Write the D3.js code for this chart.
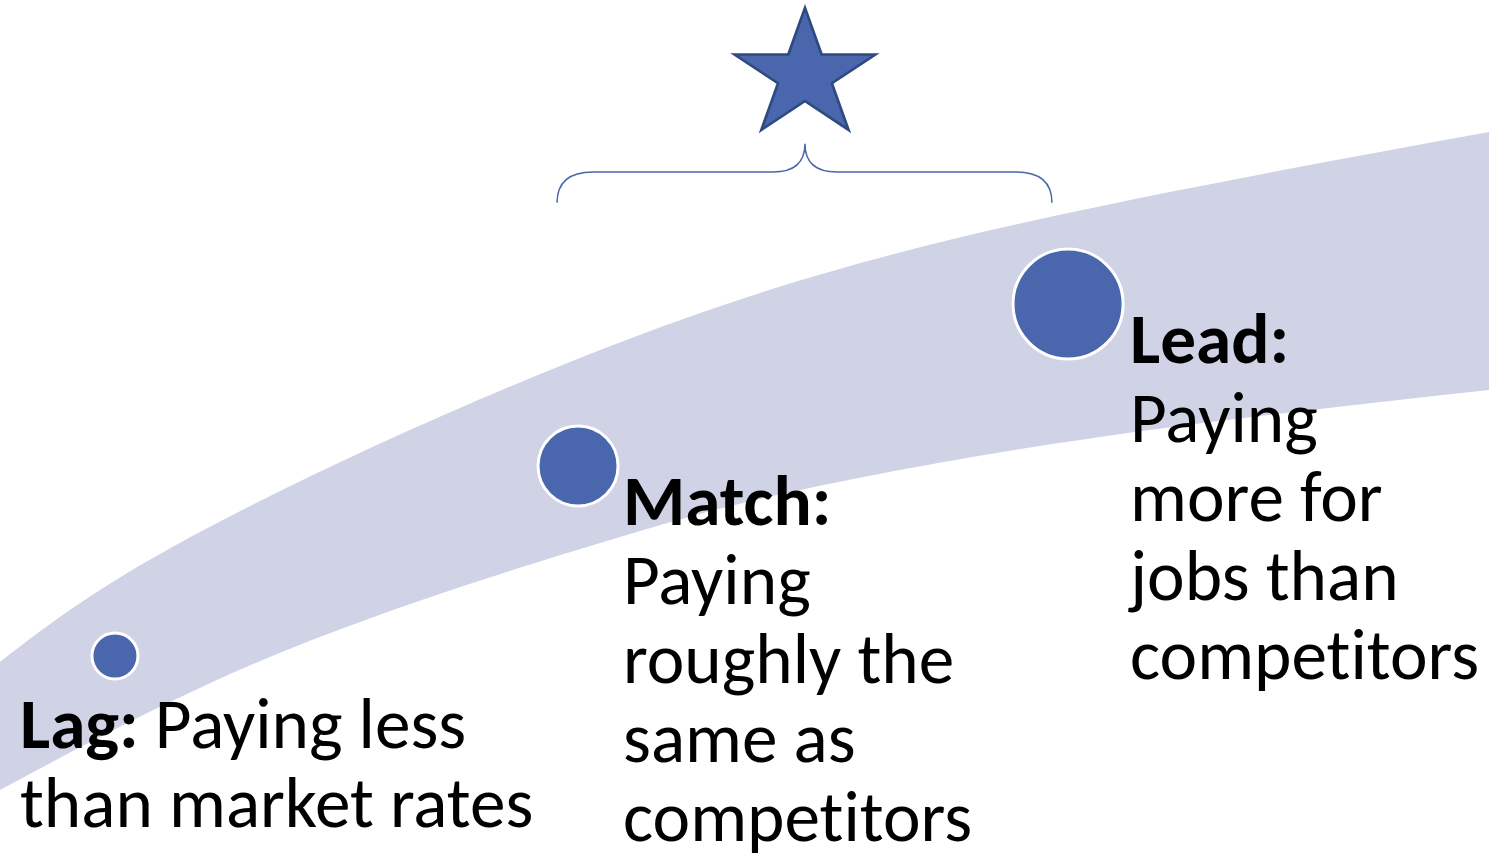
<!DOCTYPE html>
<html>
<head>
<meta charset="utf-8">
<script src="https://cdn.jsdelivr.net/npm/d3@7"></script>
<style>
  body { margin: 0; background: #fff; }
  text { font-family: Calibri, Carlito, Lato, "Open Sans", sans-serif; fill: #000; white-space: pre; font-variant-ligatures: none; }
</style>
</head>
<body>
<svg id="chart"></svg>
<script>
// band edges, in percent of the slide (x from left, y from bottom)
var bandTopX = [0, 13.43, 40.30, 67.16, 100];
var bandTopY = [22.66, 37.85, 59.11, 73.36, 84.58];
var bandBottomX = [0, 19.27, 40.30, 53.73, 73.88, 100];
var bandBottomY = [7.71, 24.07, 36.57, 42.76, 48.95, 54.44];

// the three pay strategies
var tiers = ["Lag", "Match", "Lead"];
var tierX = [7.72, 38.82, 71.73];
var tierY = [23.36, 45.56, 64.49];
var tierSize = [17.5, 52.9, 100];
var tierText = [
    ["Paying less", "than market rates"],
    ["Paying", "roughly the", "same as", "competitors"],
    ["Paying", "more for", "jobs than", "competitors"]
];

// star and brace above the match/lead range
var starX = 54.06, starY = 91.2;
var braceX = [37.41, 70.65];
var braceY = [76.3, 79.9, 83.2];

var width = 1489, height = 856;

var svg = d3.select("#chart")
    .attr("width", width)
    .attr("height", height);

var x = d3.scaleLinear().domain([0, 100]).range([0, width]);
var y = d3.scaleLinear().domain([0, 100]).range([height, 0]);
var r = d3.scaleSqrt().domain([0, 100]).range([0, 55]);

// Band: upper edge forward, lower edge back
var top_ = bandTopX.map(function(d, i) { return [x(d), y(bandTopY[i])]; });
var bottom = bandBottomX.map(function(d, i) { return [x(d), y(bandBottomY[i])]; });
var edge = d3.line().curve(d3.curveNatural);
var revBottom = bottom.slice().reverse();
svg.append("path")
    .attr("d", edge(top_) + "L" + revBottom[0].join(",") +
        edge(revBottom).replace(/^M[^LC]+/, "") + "Z")
    .attr("fill", "#cfd3e5");

// Circles
svg.selectAll("circle.tier")
    .data(tiers)
    .enter().append("circle")
        .attr("class", "tier")
        .attr("cx", function(d, i) { return x(tierX[i]); })
        .attr("cy", function(d, i) { return y(tierY[i]); })
        .attr("r", function(d, i) { return r(tierSize[i]); })
        .attr("fill", "#4a66ac")
        .attr("stroke", "#fff")
        .attr("stroke-width", 3);

// Star
var starR = 67.4;
svg.append("path")
    .attr("d", d3.symbol().type(d3.symbolStar).size(starR * starR / 0.8908130915292852)())
    .attr("transform", "translate(" + x(starX) + "," + y(starY) + ") scale(1.1,1)")
    .attr("fill", "#4a66ac")
    .attr("stroke", "#2f4a80")
    .attr("stroke-width", 2.5);

// Brace
var bx0 = x(braceX[0]), bx1 = x(braceX[1]), bm = x(starX);
var yEnd = y(braceY[0]), yMid = y(braceY[1]), yTip = y(braceY[2]);
var rad = 36;
var bp = d3.path();
bp.moveTo(bx0, yEnd);
bp.quadraticCurveTo(bx0, yMid, bx0 + rad, yMid);
bp.lineTo(bm - 32, yMid);
bp.quadraticCurveTo(bm, yMid, bm, yTip);
bp.quadraticCurveTo(bm, yMid, bm + 32, yMid);
bp.lineTo(bx1 - rad, yMid);
bp.quadraticCurveTo(bx1, yMid, bx1, yEnd);
svg.append("path")
    .attr("d", bp.toString())
    .attr("fill", "none")
    .attr("stroke", "#4a66ac")
    .attr("stroke-width", 1.5);

// Text - fit font so "competitors" is about as wide as in the slide
var probe = svg.append("text").attr("font-size", 64).text("competitors");
var fs = 64 * 349 / probe.node().getComputedTextLength();
probe.remove();
var lineH = 79;

// Lag label: bold name on first line with text after it
var lag = svg.append("text")
    .attr("x", 20)
    .attr("y", y(12.6))
    .attr("font-size", fs);
lag.append("tspan").attr("font-weight", "bold").text(tiers[0] + ":");
lag.append("tspan").text(" " + tierText[0][0]);
svg.append("text")
    .attr("x", 20)
    .attr("y", y(12.6) + lineH)
    .attr("font-size", fs)
    .text(tierText[0][1]);

// Match & Lead labels stacked beside circles
[1, 2].forEach(function(i) {
    var tx = x(tierX[i]) + r(tierSize[i]) + (i == 1 ? 5 : 7);
    var ty = y(tierY[i]) + 59;
    var t = svg.append("text")
        .attr("x", tx)
        .attr("y", ty)
        .attr("font-size", fs);
    t.append("tspan").attr("font-weight", "bold").text(tiers[i] + ":");
    tierText[i].forEach(function(line, j) {
        t.append("tspan")
            .attr("x", tx)
            .attr("y", ty + lineH * (j + 1))
            .text(line);
    });
});
</script>
</body>
</html>
